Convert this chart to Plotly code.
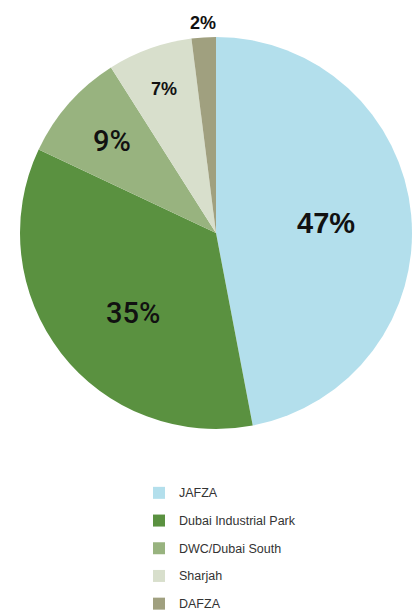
import math
import plotly.graph_objects as go

categories = ["JAFZA", "Dubai Industrial Park", "DWC/Dubai South", "Sharjah", "DAFZA"]
values = [47, 35, 9, 7, 2]

# styling
colors = ["#b3dfec", "#5a9140", "#98b37f", "#d8dfcc", "#a0a07f"]
label_sizes = [29, 29, 29, 18, 18]
label_weights = [700, 500, 500, 700, 700]
label_radius_frac = [0.563, 0.588, 0.707, 0.78, 1.073]
label_angle_shift_deg = [0, -6, 0, 0, 0]

W, H = 418, 612
cx, cy, r = 216, 233, 196
FONT = "Liberation Sans, Arial, Helvetica, sans-serif"
MED_FONT = "Roboto, Liberation Sans, Arial, sans-serif"

fig = go.Figure(go.Pie(
    labels=[f"<span style='font-size:12.5px;baseline-shift:3px'>{c}</span>" for c in categories],
    values=values,
    sort=False,
    direction="clockwise",
    rotation=0,
    marker=dict(colors=colors, line=dict(width=0)),
    textinfo="none",
    domain=dict(x=[(cx - r) / W, (cx + r) / W], y=[1 - (cy + r) / H, 1 - (cy - r) / H]),
    hovertemplate="%{customdata}: %{value}%<extra></extra>",
    customdata=categories,
))

# percentage labels placed along each slice's mid-angle
total = sum(values)
cum = 0
for v, size, weight, frac, shift in zip(values, label_sizes, label_weights,
                                        label_radius_frac, label_angle_shift_deg):
    mid = (cum + v / 2) / total * 2 * math.pi + math.radians(shift)
    cum += v
    px = cx + frac * r * math.sin(mid)
    py = cy - frac * r * math.cos(mid)
    fig.add_annotation(
        x=px / W, y=1 - py / H, xref="paper", yref="paper",
        text=f"{v}%", showarrow=False, xanchor="center", yanchor="middle",
        font=dict(family=FONT if weight == 700 else MED_FONT, size=size,
                  color="#111111", weight=weight),
    )

fig.update_layout(
    width=W, height=H,
    margin=dict(l=0, r=0, t=0, b=0, autoexpand=False),
    paper_bgcolor="white",
    plot_bgcolor="white",
    showlegend=True,
    legend=dict(
        x=139 / W, y=1 - 474 / H, xanchor="left", yanchor="top",
        font=dict(family=FONT, size=19, color="#333333"),
        bgcolor="rgba(0,0,0,0)",
    ),
)

fig.write_html("out.html")
